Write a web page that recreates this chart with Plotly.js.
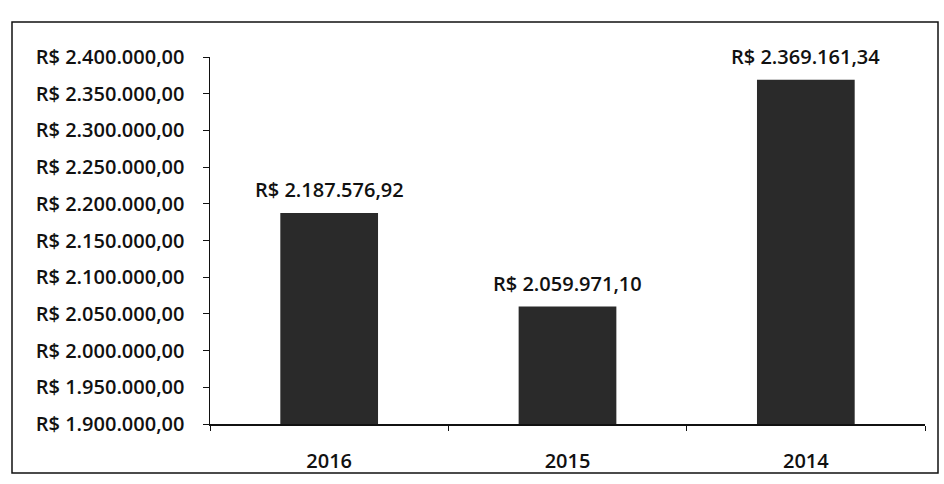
<!DOCTYPE html>
<html>
<head>
<meta charset="utf-8">
<script src="https://cdn.plot.ly/plotly-3.0.1.min.js"></script>
<style>html,body{margin:0;padding:0;background:#fff;}#chart{width:944px;height:484px;}</style>
</head>
<body>
<div id="chart"></div>
<script>
const categories = ["2016", "2015", "2014"];
const values = [2187576.92, 2059971.10, 2369161.34];
const tickValues = [1900000, 1950000, 2000000, 2050000, 2100000, 2150000, 2200000, 2250000, 2300000, 2350000, 2400000];

function brl(v) {
  const parts = v.toFixed(2).split(".");
  const intPart = parts[0].replace(/\B(?=(\d{3})+(?!\d))/g, ".");
  return "R$ " + intPart + "," + parts[1];
}
const tickLabels = tickValues.map(brl);
const valueLabels = values.map(brl);

const L = 210, R = 925, T = 57, B = 424, W = 944, H = 484;
const px = x => (x - L) / (R - L);
const py = y => (B - y) / (B - T);

const font = {family: "Open Sans, Liberation Sans, sans-serif", color: "#111", size: 20, weight: 600};

const trace = {
  type: "bar",
  x: categories,
  y: values,
  marker: {color: "#2a2a2a", line: {width: 0}},
  hoverinfo: "none"
};

const annotations = categories.map((c, i) => ({
  x: i, y: values[i], xref: "x", yref: "y",
  text: valueLabels[i], showarrow: false,
  yanchor: "bottom", yshift: 8,
  font: Object.assign({}, font)
}));

const layout = {
  width: W, height: H,
  margin: {l: L, r: W - R, t: T, b: H - B},
  paper_bgcolor: "#fff",
  plot_bgcolor: "#fff",
  showlegend: false,
  bargap: 0.59,
  font: font,
  xaxis: {
    type: "category",
    range: [-0.5, categories.length - 0.5],
    showline: true, linecolor: "#111", linewidth: 1.5,
    ticks: "outside", tickson: "boundaries", ticklen: 5, tickcolor: "#111",
    ticklabelstandoff: 18,
    tickfont: Object.assign({}, font),
    showgrid: false, zeroline: false
  },
  yaxis: {
    range: [1900000, 2400000],
    tickmode: "array",
    tickvals: tickValues,
    ticktext: tickLabels,
    showline: true, linecolor: "#111", linewidth: 1.5,
    ticks: "outside", ticklen: 6, tickcolor: "#111",
    ticklabelstandoff: 14,
    tickfont: Object.assign({}, font),
    showgrid: false, zeroline: false
  },
  annotations: annotations,
  shapes: [{
    type: "rect", xref: "paper", yref: "paper",
    x0: px(12), x1: px(938), y0: py(473), y1: py(22),
    line: {color: "#111", width: 1.5}, fillcolor: "rgba(0,0,0,0)"
  }]
};

Plotly.newPlot("chart", [trace], layout, {displayModeBar: false, staticPlot: true});
</script>
</body>
</html>
